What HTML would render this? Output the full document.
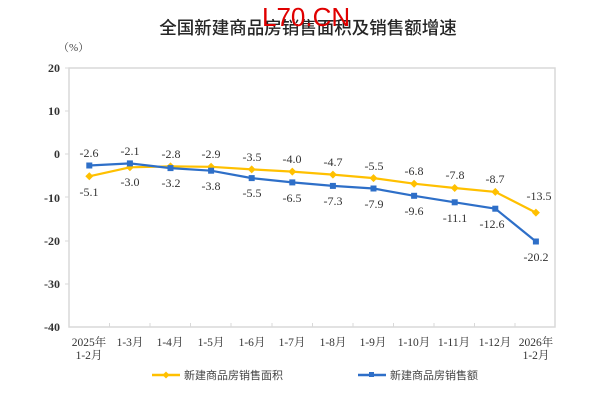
<!DOCTYPE html>
<html><head><meta charset="utf-8"><style>
html,body{margin:0;padding:0;background:#fff;}
svg{display:block;}
</style></head><body>
<svg width="615" height="414" xmlns="http://www.w3.org/2000/svg">
<rect width="615" height="414" fill="#fff"/>
<text x="308" y="34" text-anchor="middle" font-family="'Noto Sans CJK SC',sans-serif" font-size="17.5" font-weight="500" fill="#262626">全国新建商品房销售面积及销售额增速</text>
<text x="262" y="26" font-family="'Liberation Sans',sans-serif" font-size="26" fill="#e00000">L70.CN</text>
<text x="58" y="51" font-family="'Liberation Serif','Noto Serif CJK SC',serif" font-size="11" fill="#444">（%）</text>
<rect x="69" y="68" width="486" height="259" fill="none" stroke="#d9d9d9" stroke-width="1.5"/>
<g font-family="'Liberation Serif',serif" font-size="12" font-weight="bold" fill="#333" text-anchor="end">
<text x="60" y="72">20</text><text x="60" y="115">10</text><text x="60" y="158">0</text>
<text x="60" y="202">-10</text><text x="60" y="245">-20</text><text x="60" y="288">-30</text><text x="60" y="331">-40</text>
</g>
<g stroke="#d9d9d9" stroke-width="1">
<line x1="65" y1="68" x2="69" y2="68"/><line x1="65" y1="111" x2="69" y2="111"/><line x1="65" y1="154" x2="69" y2="154"/><line x1="65" y1="197" x2="69" y2="197"/><line x1="65" y1="241" x2="69" y2="241"/><line x1="65" y1="284" x2="69" y2="284"/>
<line x1="109.5" y1="323" x2="109.5" y2="327"/><line x1="150" y1="323" x2="150" y2="327"/><line x1="190.5" y1="323" x2="190.5" y2="327"/><line x1="231" y1="323" x2="231" y2="327"/><line x1="272" y1="323" x2="272" y2="327"/><line x1="312.5" y1="323" x2="312.5" y2="327"/><line x1="353" y1="323" x2="353" y2="327"/><line x1="393.5" y1="323" x2="393.5" y2="327"/><line x1="434" y1="323" x2="434" y2="327"/><line x1="474.5" y1="323" x2="474.5" y2="327"/><line x1="515" y1="323" x2="515" y2="327"/>
</g>
<g font-family="'Liberation Serif','Noto Serif CJK SC',serif" font-size="11.5" fill="#333" text-anchor="middle">
<text x="89" y="346">2025年</text><text x="89" y="359">1-2月</text>
<text x="130" y="346">1-3月</text><text x="170" y="346">1-4月</text><text x="211" y="346">1-5月</text>
<text x="252" y="346">1-6月</text><text x="292" y="346">1-7月</text><text x="333" y="346">1-8月</text>
<text x="373" y="346">1-9月</text><text x="414" y="346">1-10月</text><text x="454" y="346">1-11月</text>
<text x="495" y="346">1-12月</text><text x="536" y="346">2026年</text><text x="536" y="359">1-2月</text>
</g>
<polyline fill="none" stroke="#ffc000" stroke-width="2.2" points="89.3,176.3 129.9,167.3 170.5,166.4 211.1,166.8 251.7,169.4 292.3,171.6 332.9,174.6 373.5,178.1 414.1,183.7 454.7,188 495.3,191.9 535.9,212.6"/>
<g fill="#ffc000">
<path d="M89.3,172.3l4,4l-4,4l-4,-4z"/><path d="M129.9,163.3l4,4l-4,4l-4,-4z"/><path d="M170.5,162.4l4,4l-4,4l-4,-4z"/><path d="M211.1,162.8l4,4l-4,4l-4,-4z"/><path d="M251.7,165.4l4,4l-4,4l-4,-4z"/><path d="M292.3,167.6l4,4l-4,4l-4,-4z"/><path d="M332.9,170.6l4,4l-4,4l-4,-4z"/><path d="M373.5,174.1l4,4l-4,4l-4,-4z"/><path d="M414.1,179.7l4,4l-4,4l-4,-4z"/><path d="M454.7,184l4,4l-4,4l-4,-4z"/><path d="M495.3,187.9l4,4l-4,4l-4,-4z"/><path d="M535.9,208.6l4,4l-4,4l-4,-4z"/>
</g>
<polyline fill="none" stroke="#2e6fc8" stroke-width="2.2" points="89.3,165.5 129.9,163.4 170.5,168.1 211.1,170.7 251.7,178.1 292.3,182.4 332.9,185.9 373.5,188.5 414.1,195.8 454.7,202.3 495.3,208.7 535.9,241.5"/>
<g fill="#2e6fc8">
<rect x="86.3" y="162.5" width="6" height="6"/><rect x="126.9" y="160.4" width="6" height="6"/><rect x="167.5" y="165.1" width="6" height="6"/><rect x="208.1" y="167.7" width="6" height="6"/><rect x="248.7" y="175.1" width="6" height="6"/><rect x="289.3" y="179.4" width="6" height="6"/><rect x="329.9" y="182.9" width="6" height="6"/><rect x="370.5" y="185.5" width="6" height="6"/><rect x="411.1" y="192.8" width="6" height="6"/><rect x="451.7" y="199.3" width="6" height="6"/><rect x="492.3" y="205.7" width="6" height="6"/><rect x="532.9" y="238.5" width="6" height="6"/>
</g>
<g font-family="'Liberation Serif',serif" font-size="12" fill="#333" text-anchor="middle">
<text x="89" y="157">-2.6</text><text x="130" y="155">-2.1</text>
<text x="171" y="158">-2.8</text><text x="211" y="158">-2.9</text><text x="252" y="161">-3.5</text><text x="292" y="163">-4.0</text><text x="333" y="166">-4.7</text><text x="374" y="170">-5.5</text><text x="414" y="175">-6.8</text><text x="455" y="179">-7.8</text><text x="495" y="183">-8.7</text><text x="539" y="200">-13.5</text>
<text x="89" y="196">-5.1</text><text x="130" y="186">-3.0</text>
<text x="171" y="187">-3.2</text><text x="211" y="190">-3.8</text><text x="252" y="197">-5.5</text><text x="292" y="202">-6.5</text><text x="333" y="205">-7.3</text><text x="374" y="208">-7.9</text><text x="414" y="215">-9.6</text><text x="455" y="222">-11.1</text><text x="492" y="228">-12.6</text><text x="536" y="261">-20.2</text>
</g>
<line x1="152" y1="375" x2="180" y2="375" stroke="#ffc000" stroke-width="2.5"/>
<path d="M166,371.5l3.5,3.5l-3.5,3.5l-3.5,-3.5z" fill="#ffc000"/>
<text x="184" y="379" font-family="'Noto Sans CJK SC',sans-serif" font-size="11" fill="#444">新建商品房销售面积</text>
<line x1="358" y1="375" x2="386" y2="375" stroke="#2e6fc8" stroke-width="2.5"/>
<rect x="369" y="372" width="5" height="5" fill="#2e6fc8"/>
<text x="390" y="379" font-family="'Noto Sans CJK SC',sans-serif" font-size="11" fill="#444">新建商品房销售额</text>
</svg>
</body></html>
